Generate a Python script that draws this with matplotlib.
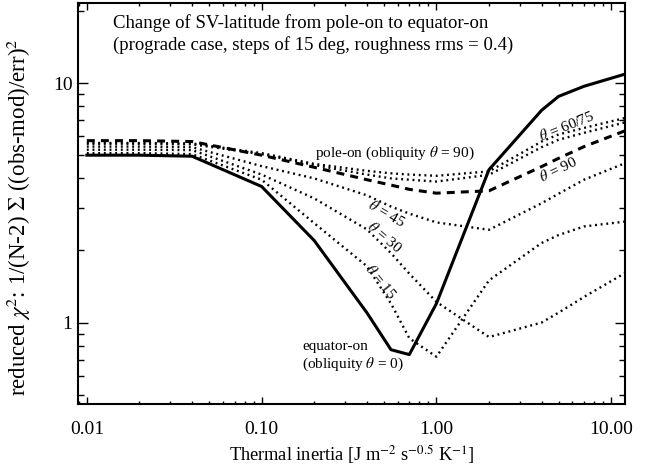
import matplotlib
matplotlib.use('Agg')
import matplotlib.pyplot as plt
from matplotlib.ticker import FixedLocator, NullFormatter, LogLocator

plt.rcParams['font.family'] = ['Liberation Serif', 'DejaVu Serif']
plt.rcParams['mathtext.fontset'] = 'stix'

# thermal inertia grid
ti = [0.01, 0.02, 0.04, 0.1, 0.2, 0.4, 0.55, 0.7, 1.0, 2.0, 4.0, 5.0, 7.0, 12.0]

# reduced chi2 for each obliquity
chi_0 = [5.0, 5.0, 4.95, 3.7, 2.2, 1.1, 0.77, 0.735, 1.2, 4.35, 7.7, 8.8, 9.7, 10.9]
chi_15 = [5.1, 5.1, 5.05, 3.95, 2.6, 1.72, 1.2, 0.86, 0.72, 1.5, 2.15, 2.32, 2.52, 2.64]
chi_30 = [5.27, 5.27, 5.25, 4.15, 3.3, 2.45, 1.95, 1.6, 1.22, 0.87, 1.0, 1.1, 1.28, 1.61]
chi_45 = [5.43, 5.43, 5.4, 4.5, 4.0, 3.4, 3.05, 2.85, 2.62, 2.44, 3.15, 3.45, 3.95, 4.63]
chi_60 = [5.62, 5.62, 5.6, 5.1, 4.6, 4.3, 4.2, 4.15, 4.1, 4.28, 5.7, 6.1, 6.5, 7.15]
chi_75 = [5.58, 5.58, 5.55, 5.05, 4.55, 4.15, 4.0, 3.95, 3.88, 4.14, 5.4, 5.8, 6.2, 6.85]
chi_90 = [5.75, 5.75, 5.7, 5.0, 4.45, 3.95, 3.75, 3.6, 3.47, 3.55, 4.48, 4.85, 5.43, 6.32]

xticks = [0.01, 0.1, 1.0, 10.0]
xticklabels = ['0.01', '0.10', '1.00', '10.00']
yticks = [1, 10]
yticklabels = ['1', '10']

fig = plt.figure(figsize=(6.56, 4.73), dpi=100)
ax = fig.add_axes([78/656, 1-404/473, 547/656, 401/473])

dot = (0, (0.8, 1.6))
ax.plot(ti, chi_0, color='black', lw=2.2)
ax.plot(ti, chi_15, color='black', lw=1.7, ls=dot)
ax.plot(ti, chi_30, color='black', lw=1.7, ls=dot)
ax.plot(ti, chi_45, color='black', lw=1.7, ls=dot)
ax.plot(ti, chi_60, color='black', lw=1.7, ls=dot)
ax.plot(ti, chi_75, color='black', lw=1.7, ls=dot)
ax.plot(ti, chi_90, color='black', lw=2.2, ls=(0, (2.6, 2.0)))

ax.set_xscale('log')
ax.set_yscale('log')
ax.set_xlim(0.0089, 12.0)
ax.set_ylim(0.457, 21.6)

ax.xaxis.set_major_locator(FixedLocator(xticks))
ax.set_xticklabels(xticklabels)
ax.yaxis.set_major_locator(FixedLocator(yticks))
ax.set_yticklabels(yticklabels)
ax.xaxis.set_minor_locator(LogLocator(base=10, subs=range(2, 10)))
ax.yaxis.set_minor_locator(LogLocator(base=10, subs=range(2, 10)))
ax.xaxis.set_minor_formatter(NullFormatter())
ax.yaxis.set_minor_formatter(NullFormatter())

ax.tick_params(axis='both', which='both', direction='in', top=True, right=True,
               width=1.0, labelsize=14)
ax.tick_params(axis='x', which='major', length=5, pad=12)
ax.tick_params(axis='x', which='minor', length=2.5)
ax.tick_params(axis='y', which='major', length=7.5, pad=4)
ax.tick_params(axis='y', which='minor', length=4)
for s in ax.spines.values():
    s.set_linewidth(1.5)

ax.set_xlabel('Thermal inertia [J m$^{-2}$ s$^{-0.5}$ K$^{-1}$]', fontsize=13.2, labelpad=4)
ax.set_ylabel('reduced $\\chi^2$: 1/(N-2) $\\Sigma$ ((obs-mod)/err)$^2$', fontsize=16.5)
ax.yaxis.set_label_coords(-0.083, 0.466)

tr = ax.transAxes
ax.text(0.064, 0.938, 'Change of SV-latitude from pole-on to equator-on',
        transform=tr, fontsize=13.5, va='baseline')
ax.text(0.064, 0.883, '(prograde case, steps of 15 deg, roughness rms = 0.4)',
        transform=tr, fontsize=13.5, va='baseline')

ax.text(0.433, 0.616, 'pole-on (obliquity $\\theta$ = 90)', transform=tr,
        fontsize=11, va='baseline')
ax.text(0.893, 0.692, '$\\theta$ = 60/75', transform=tr, fontsize=11,
        rotation=22, ha='center', va='center')
ax.text(0.878, 0.584, '$\\theta$ = 90', transform=tr, fontsize=11,
        rotation=26, ha='center', va='center')
ax.text(0.564, 0.476, '$\\theta$ = 45', transform=tr, fontsize=11,
        rotation=-30, ha='center', va='center')
ax.text(0.561, 0.417, '$\\theta$ = 30', transform=tr, fontsize=11,
        rotation=-40, ha='center', va='center')
ax.text(0.553, 0.305, '$\\theta$ = 15', transform=tr, fontsize=11,
        rotation=-51, ha='center', va='center')
ax.text(0.4095, 0.143, 'equator-on', transform=tr, fontsize=11, va='center')
ax.text(0.4095, 0.099, '(obliquity $\\theta$ = 0)', transform=tr, fontsize=11,
        va='center')

fig.savefig('out.png', dpi=100)
